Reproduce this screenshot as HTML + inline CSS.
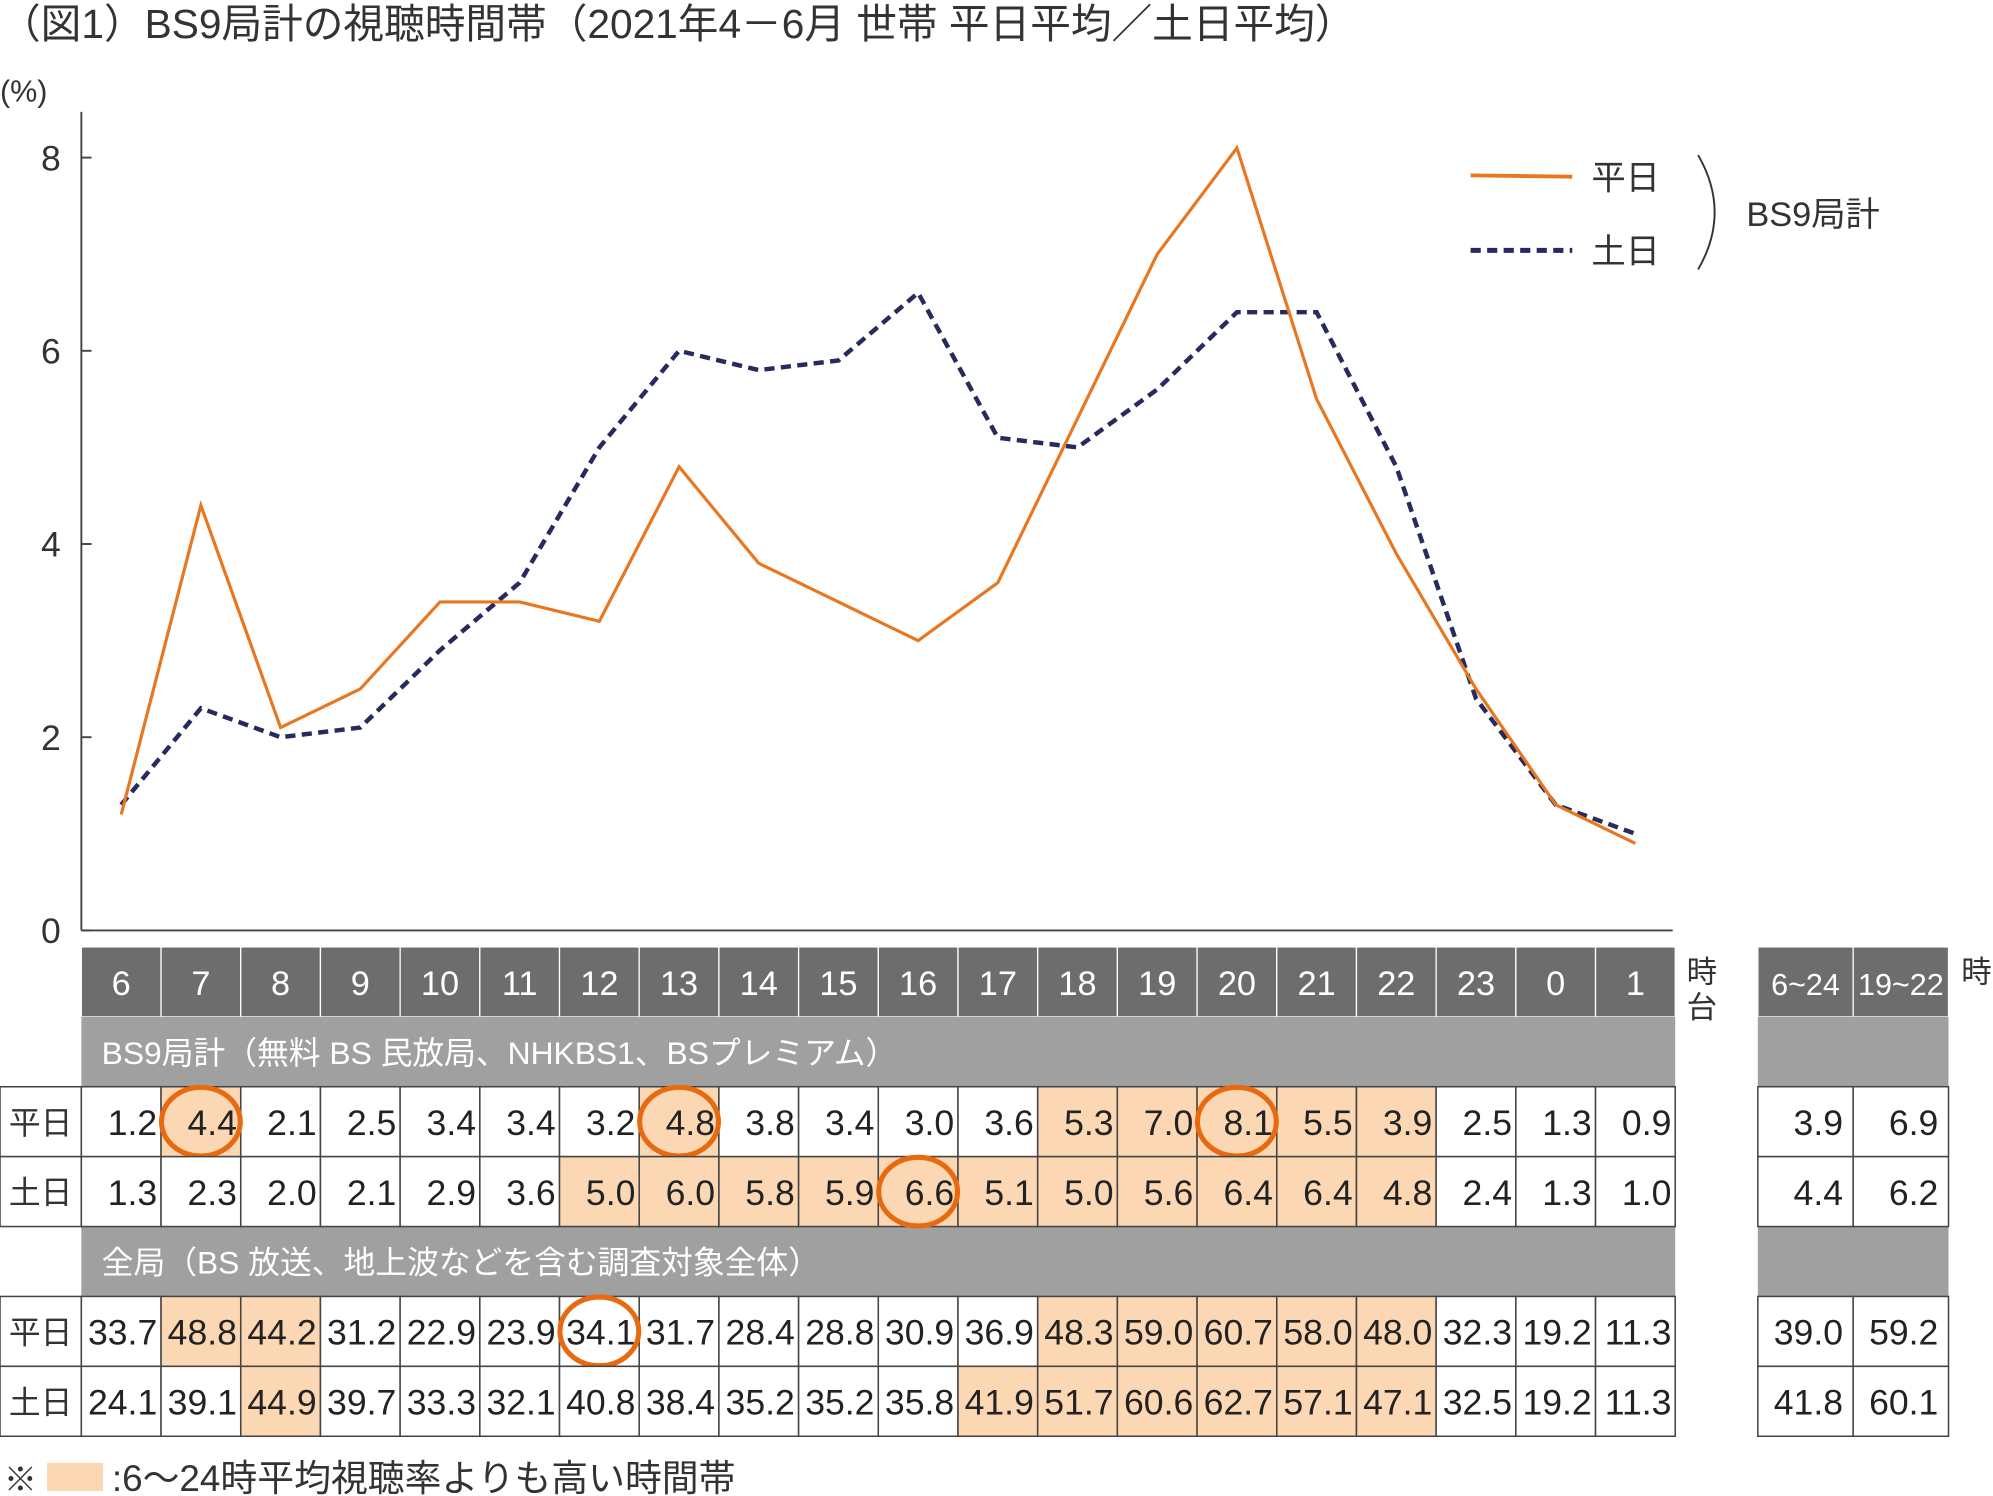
<!DOCTYPE html>
<html><head><meta charset="utf-8"><style>
html,body{margin:0;padding:0;background:#fff}
svg{display:block}
text{font-family:"Liberation Sans Narrow","Liberation Sans","Noto Sans CJK JP",sans-serif}
.jp{font-family:"Liberation Sans","Noto Sans CJK JP",sans-serif}
</style></head><body>
<svg id="c" width="1993" height="1496" viewBox="0 0 1568 1177" xmlns="http://www.w3.org/2000/svg">
<text class="jp" x="0" y="30" font-size="32" fill="#333">（図1）BS9局計の視聴時間帯（2021年4－6月 世帯 平日平均／土日平均）</text>
<text class="jp" x="0" y="80" font-size="24" fill="#333">(%)</text>
<g id="axes"></g>
<g id="lines"></g>
<g>
<line x1="1157" y1="138" x2="1237" y2="139" stroke="#e87722" stroke-width="3"/>
<text class="jp" x="1252" y="149" font-size="27" fill="#333">平日</text>
<line x1="1157" y1="197" x2="1237" y2="197" stroke="#262a5e" stroke-width="4" stroke-dasharray="8,5"/>
<text class="jp" x="1252" y="207" font-size="27" fill="#333">土日</text>
<path d="M1336 122 Q1362 167 1336 212" fill="none" stroke="#333" stroke-width="1.5"/>
<text class="jp" x="1374" y="178" font-size="27" fill="#333">BS9局計</text>
</g>
<g id="table"></g>
<g>
<text class="jp" x="3" y="1173" font-size="26" fill="#333">※</text>
<rect x="37" y="1151" width="44" height="22" fill="#fbd7b3"/>
<text class="jp" x="88" y="1173" font-size="29" fill="#333">:6〜24時平均視聴率よりも高い時間帯</text>
</g>
</svg>
<script>
const hours=["6","7","8","9","10","11","12","13","14","15","16","17","18","19","20","21","22","23","0","1"];
const bsWeekday=[1.2,4.4,2.1,2.5,3.4,3.4,3.2,4.8,3.8,3.4,3.0,3.6,5.3,7.0,8.1,5.5,3.9,2.5,1.3,0.9];
const bsWeekend=[1.3,2.3,2.0,2.1,2.9,3.6,5.0,6.0,5.8,5.9,6.6,5.1,5.0,5.6,6.4,6.4,4.8,2.4,1.3,1.0];
const allWeekday=[33.7,48.8,44.2,31.2,22.9,23.9,34.1,31.7,28.4,28.8,30.9,36.9,48.3,59.0,60.7,58.0,48.0,32.3,19.2,11.3];
const allWeekend=[24.1,39.1,44.9,39.7,33.3,32.1,40.8,38.4,35.2,35.2,35.8,41.9,51.7,60.6,62.7,57.1,47.1,32.5,19.2,11.3];
const yTicks=[0,2,4,6,8];
const avgHeaders=["6~24","19~22"];
const bsAvgWeekday=[3.9,6.9], bsAvgWeekend=[4.4,6.2], allAvgWeekday=[39.0,59.2], allAvgWeekend=[41.8,60.1];
const hlBsWd=[1,7,12,13,14,15,16];
const hlBsWe=[6,7,8,9,10,11,12,13,14,15,16];
const hlAllWd=[1,2,12,13,14,15,16];
const hlAllWe=[2,11,12,13,14,15,16];
const circled={bsWd:[1,7,14],bsWe:[10],allWd:[6],allWe:[]};

const NS="http://www.w3.org/2000/svg";
function mk(tag,attrs,parent,txt){const e=document.createElementNS(NS,tag);for(const k in attrs)e.setAttribute(k,attrs[k]);if(txt!==undefined)e.textContent=txt;parent.appendChild(e);return e;}
const X0=64,CW=62.7,Y0=732,PU=76;
const xPos=i=>X0+CW*i+CW/2;
const yPos=v=>Y0-v*PU;

const ax=document.getElementById('axes');
let l=mk('line',{x1:X0,y1:88,x2:X0,y2:Y0,stroke:'#444','stroke-width':1.5},ax);


l=mk('line',{x1:X0,y1:Y0,x2:1316,y2:Y0,stroke:'#444','stroke-width':1.5},ax);


yTicks.forEach(t=>{
  const tk=mk('line',{x1:X0,y1:yPos(t),x2:X0+8,y2:yPos(t),stroke:'#444','stroke-width':1.5},ax);
  
  
  const tl=mk('text',{x:40,y:yPos(t)+10,'font-size':28,fill:'#333','text-anchor':'middle'},ax,String(t));
  
  
});
const ln=document.getElementById('lines');
function series(arr,col,w,dash,name){
  const p=mk('polyline',{points:arr.map((v,i)=>xPos(i)+','+yPos(v)).join(' '),fill:'none',stroke:col,'stroke-width':w,'stroke-linejoin':'miter'},ln);
  if(dash)p.setAttribute('stroke-dasharray',dash);
  
  
}
series(bsWeekend,'#262a5e',3.5,'8,5','weekend-line');
series(bsWeekday,'#e87722',2.5,null,'weekday-line');

const tb=document.getElementById('table');
const HL='#fbd7b3',OR='#e8690e';
hours.forEach((h,i)=>{
  const r=mk('rect',{x:X0+CW*i,y:745,width:CW,height:55,fill:'#6d6d6d',stroke:'#fff','stroke-width':1},tb);
  
  
  const t=mk('text',{x:xPos(i),y:783,'font-size':27,fill:'#fff','text-anchor':'middle'},tb,h);
  
  
});
let t=mk('text',{class:'jp',x:1339,y:773,'font-size':24,fill:'#333','text-anchor':'middle'},tb,'時');


t=mk('text',{class:'jp',x:1339,y:801,'font-size':24,fill:'#333','text-anchor':'middle'},tb,'台');


const AX=[1383,1458],AW=75;
avgHeaders.forEach((h,i)=>{
  const r=mk('rect',{x:AX[i],y:745,width:AW,height:55,fill:'#6d6d6d',stroke:'#fff','stroke-width':1},tb);
  
  
  const tt=mk('text',{x:AX[i]+AW/2,y:783,'font-size':24,fill:'#fff','text-anchor':'middle'},tb,h);
  
  
});
t=mk('text',{class:'jp',x:1555,y:773,'font-size':24,fill:'#333','text-anchor':'middle'},tb,'時');



function band(y,label,name){
  const r=mk('rect',{x:X0,y:y,width:CW*20,height:55,fill:'#a0a0a0'},tb);
  
  
  const r2=mk('rect',{x:1383,y:y,width:150,height:55,fill:'#a0a0a0'},tb);
  
  
  const tt=mk('text',{class:'jp',x:80,y:y+37,'font-size':25,fill:'#fff'},tb,label);
  
  
}
band(800,'BS9局計（無料 BS 民放局、NHKBS1、BSプレミアム）','bs9-section-band');
band(965,'全局（BS 放送、地上波などを含む調査対象全体）','all-section-band');

function row(y,label,vals,hl,avgs,circ,name){
  const rl=mk('rect',{x:0,y:y,width:X0,height:55,fill:'#fff',stroke:'#444','stroke-width':1.2},tb);
  
  
  const lt=mk('text',{class:'jp',x:32,y:y+37,'font-size':25,fill:'#333','text-anchor':'middle'},tb,label);
  
  
  vals.forEach((v,i)=>{
    const c=mk('rect',{x:X0+CW*i,y:y,width:CW,height:55,fill:hl.includes(i)?HL:'#fff',stroke:'#444','stroke-width':1.2},tb);
    
    
  });
  vals.forEach((v,i)=>{
    const tx=mk('text',{x:X0+CW*(i+1)-3,y:y+38,'font-size':28,fill:'#222','text-anchor':'end'},tb,v.toFixed(1));
    
    
  });
  circ.forEach(i=>{
    const e=mk('ellipse',{cx:xPos(i),cy:y+27.5,rx:31,ry:27,fill:'none',stroke:OR,'stroke-width':4},tb);
    
    
  });
  avgs.forEach((v,i)=>{
    const c=mk('rect',{x:AX[i],y:y,width:AW,height:55,fill:'#fff',stroke:'#444','stroke-width':1.2},tb);
    
    
    const tx=mk('text',{x:AX[i]+AW-8,y:y+38,'font-size':28,fill:'#222','text-anchor':'end'},tb,v.toFixed(1));
    
    
  });
}
row(855,'平日',bsWeekday,hlBsWd,bsAvgWeekday,circled.bsWd,'bs-weekday-row');
row(910,'土日',bsWeekend,hlBsWe,bsAvgWeekend,circled.bsWe,'bs-weekend-row');
row(1020,'平日',allWeekday,hlAllWd,allAvgWeekday,circled.allWd,'all-weekday-row');
row(1075,'土日',allWeekend,hlAllWe,allAvgWeekend,circled.allWe,'all-weekend-row');
</script>
</body></html>
